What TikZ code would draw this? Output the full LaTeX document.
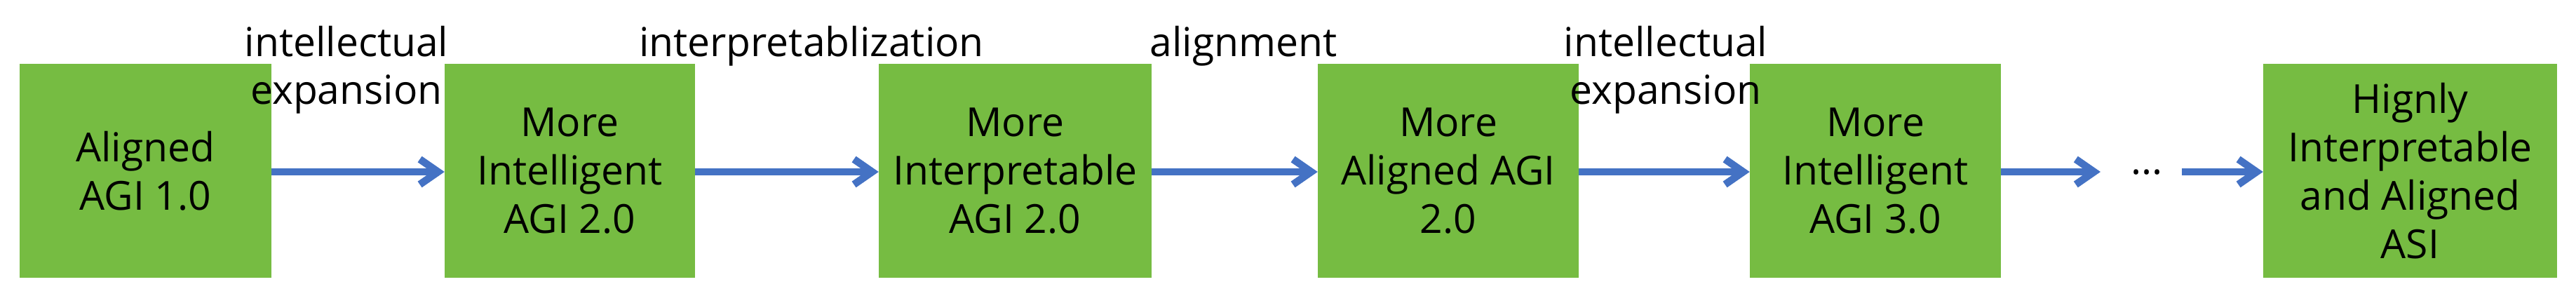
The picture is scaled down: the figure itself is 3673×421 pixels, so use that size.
\documentclass[tikz,border=0pt]{standalone}
\usepackage{fontspec}
\setmainfont{Open Sans}
\usetikzlibrary{arrows.meta}
\definecolor{boxgreen}{HTML}{76BC42}
\definecolor{arrowblue}{HTML}{4472C4}
\begin{document}
\begin{tikzpicture}[x=1pt,y=-1pt,
  stage/.style={rectangle, fill=boxgreen, draw=none, inner sep=0pt,
    minimum height=305pt, align=center, text=black,
    font=\fontsize{57}{69}\selectfont},
  lbl/.style={anchor=base, inner sep=0pt, font=\fontsize{57}{69}\selectfont},
  flow/.style={draw=arrowblue, line width=10.5pt,
    -{Straight Barb[length=26pt,width=36pt]}}
]
\useasboundingbox (0,0) rectangle (3673,421);
\node[stage, minimum width=359pt] (b1) at (207.5,243.5) {Aligned\\AGI 1.0};
\node[stage, minimum width=357pt] (b2) at (812.5,243.5) {More\\Intelligent\\AGI 2.0};
\node[stage, minimum width=389pt] (b3) at (1447.5,243.5) {More\\Interpretable\\AGI 2.0};
\node[stage, minimum width=372pt] (b4) at (2065,243.5) {More\\Aligned AGI\\2.0};
\node[stage, minimum width=358pt] (b5) at (2674,243.5) {More\\Intelligent\\AGI 3.0};
\node[stage, minimum width=419pt] (b6) at (3436.5,243.5) {Hignly\\Interpretable\\and Aligned\\ASI};

\node[lbl] (l1a) at (494,80) {intellectual};
\node[lbl] (l1b) at (494,148) {expansion};
\node[lbl] (l2) at (1157,80) {interpretablization};
\node[lbl] (l3) at (1773,80) {alignment};
\node[lbl] (l4a) at (2375,80) {intellectual};
\node[lbl] (l4b) at (2375,148) {expansion};

\coordinate (e5) at (2995,245);
\coordinate (s6) at (3111,245);
\node[lbl] (dots) at (3061,248) {...};

\draw[flow] (b1.east |- 0,245) -- (b2.west |- 0,245);
\draw[flow] (b2.east |- 0,245) -- (b3.west |- 0,245);
\draw[flow] (b3.east |- 0,245) -- (b4.west |- 0,245);
\draw[flow] (b4.east |- 0,245) -- (b5.west |- 0,245);
\draw[flow] (b5.east |- 0,245) -- (e5);
\draw[flow] (s6) -- (b6.west |- 0,245);
\end{tikzpicture}
\end{document}
